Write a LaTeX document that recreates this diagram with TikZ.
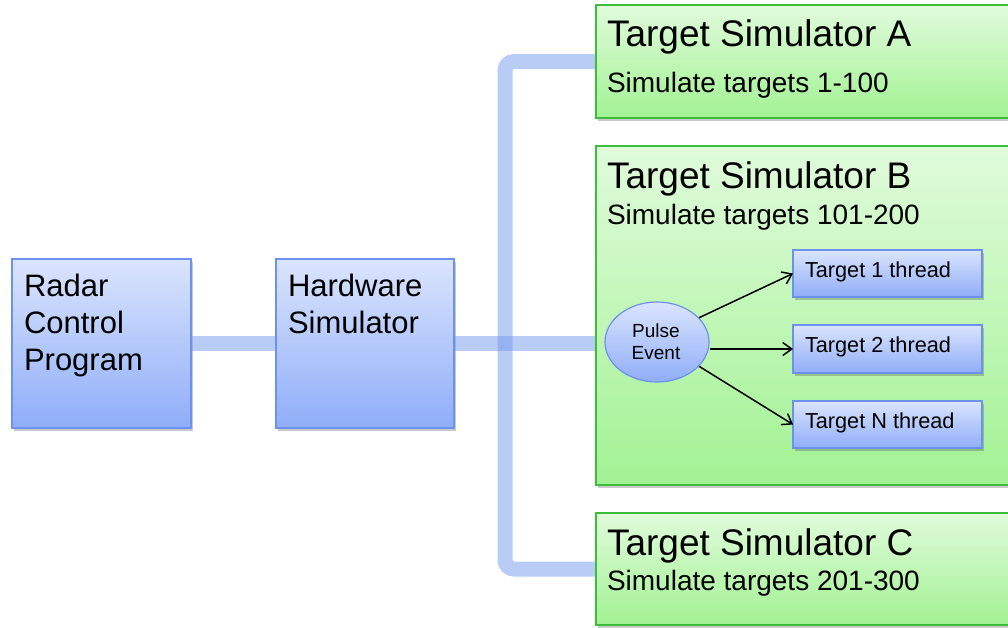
\documentclass[tikz,border=0pt]{standalone}
\usepackage{fontspec}
\setmainfont{Liberation Sans}
\usetikzlibrary{shadows,shapes.geometric,arrows.meta}

\definecolor{bluetop}{HTML}{DAE4FD}
\definecolor{bluebot}{HTML}{8FAEF9}
\definecolor{blueedge}{HTML}{6F91EE}
\definecolor{greentop}{HTML}{E0FBDB}
\definecolor{greenbot}{HTML}{A2F293}
\definecolor{greenedge}{HTML}{3CBD3C}
\definecolor{buscol}{HTML}{7399EE}

\tikzset{
  boxshadow/.style={drop shadow={shadow xshift=2pt,shadow yshift=-2.5pt,opacity=0.3,fill=black!70}},
  bluebox/.style={rectangle, draw=blueedge, line width=1.2pt, top color=bluetop,
    bottom color=bluebot, boxshadow, inner sep=0pt, outer sep=0pt},
  greenbox/.style={rectangle, draw=greenedge, line width=1.2pt, top color=greentop,
    bottom color=greenbot, boxshadow, inner sep=0pt, outer sep=0pt},
  bus/.style={draw=buscol, draw opacity=0.5, line width=15pt, line cap=butt},
  link/.style={draw=black, line width=1.5pt, -{Straight Barb[length=9pt,width=13pt,line width=1.5pt]}},
  lbl/.style={anchor=base west, inner sep=0pt, outer sep=0pt},
  bigtxt/.style={lbl, font=\fontsize{31}{36}\selectfont},
  titletxt/.style={lbl, font=\fontsize{37}{44}\selectfont},
  subtxt/.style={lbl, font=\fontsize{28}{33}\selectfont},
  threadtxt/.style={lbl, font=\fontsize{21.7}{26}\selectfont},
  smalltxt/.style={anchor=base, inner sep=0pt, font=\fontsize{19}{22}\selectfont}
}

\begin{document}
\begin{tikzpicture}[x=1pt,y=-1pt]
  \useasboundingbox (0,0) rectangle (1008,627);
  \clip (0,0) rectangle (1008,627);

  % main blocks
  \node[bluebox, minimum width=179pt, minimum height=169pt] (radar) at (101.5,343.5) {};
  \node[bluebox, minimum width=178pt, minimum height=169pt] (hw) at (365,343.5) {};

  % target simulator panels (run past the right edge)
  \node[greenbox, minimum width=419pt, minimum height=113pt] (tsA) at (805.5,61.5) {};
  \node[greenbox, minimum width=419pt, minimum height=339pt] (tsB) at (805.5,315.5) {};
  \node[greenbox, minimum width=419pt, minimum height=112pt] (tsC) at (805.5,569) {};

  % wide connectors
  \coordinate (busjoin) at (505,345);
  \path[bus] (radar.east) -- (hw.west);
  \path[bus] (hw.east) -- (hw.east -| tsB.west);
  \path[bus, rounded corners=9pt] (tsA.west) -| (busjoin) |- (tsC.west);

  % redraw panel edges over the connector ends
  \draw[greenedge, line width=1.2pt] (tsA.north west) -- (tsA.south west);
  \draw[greenedge, line width=1.2pt] (tsB.north west) -- (tsB.south west);
  \draw[greenedge, line width=1.2pt] (tsC.north west) -- (tsC.south west);
  \draw[blueedge, line width=1.2pt] (radar.north east) -- (radar.south east);
  \draw[blueedge, line width=1.2pt] (hw.north west) -- (hw.south west);
  \draw[blueedge, line width=1.2pt] (hw.north east) -- (hw.south east);

  % block labels
  \node[bigtxt] (radarL1) at (24,296) {Radar};
  \node[bigtxt] (radarL2) at (24,333) {Control};
  \node[bigtxt] (radarL3) at (24,370) {Program};
  \node[bigtxt] (hwL1) at (288,296) {Hardware};
  \node[bigtxt] (hwL2) at (288,333) {Simulator};

  \node[titletxt] (tsAT) at (607,46) {Target Simulator A};
  \node[subtxt] (tsAS) at (607,92) {Simulate targets 1-100};
  \node[titletxt] (tsBT) at (607,188) {Target Simulator B};
  \node[subtxt] (tsBS) at (607,224) {Simulate targets 101-200};
  \node[titletxt] (tsCT) at (607,555) {Target Simulator C};
  \node[subtxt] (tsCS) at (607,590) {Simulate targets 201-300};

  % threads inside simulator B
  \node[ellipse, draw=blueedge, line width=1.2pt, top color=bluetop, bottom color=bluebot,
        minimum width=104pt, minimum height=80pt, inner sep=0pt] (pulse) at (657,342) {};
  \node[smalltxt] (pulseL1) at (656,337) {Pulse};
  \node[smalltxt] (pulseL2) at (656,359) {Event};

  \node[bluebox, minimum width=189pt, minimum height=47pt] (t1) at (887.5,273.5) {};
  \node[bluebox, minimum width=189pt, minimum height=48pt] (t2) at (887.5,349) {};
  \node[bluebox, minimum width=189pt, minimum height=47pt] (t3) at (887.5,424.5) {};
  \node[threadtxt] (t1L) at (805,277) {Target 1 thread};
  \node[threadtxt] (t2L) at (805,352) {Target 2 thread};
  \node[threadtxt] (t3L) at (805,428) {Target N thread};

  \draw[link] (pulse.30) -- (t1.west);
  \draw[link] (pulse.east |- t2.west) -- (t2.west);
  \draw[link] (pulse.-30) -- (t3.west);
\end{tikzpicture}
\end{document}
